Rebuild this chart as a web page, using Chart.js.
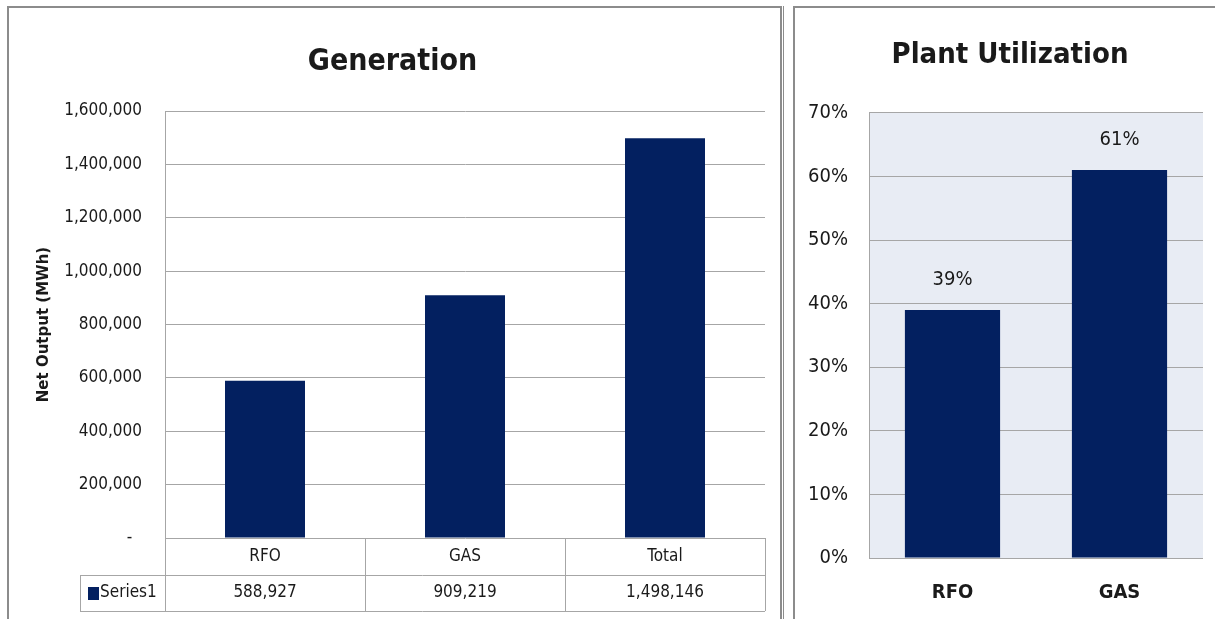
<!DOCTYPE html>
<html>
<head>
<meta charset="utf-8">
<script src="https://cdn.jsdelivr.net/npm/chart.js@4"></script>
<style>
  html, body { margin: 0; padding: 0; background: #fff; overflow: hidden; }
  body { width: 1215px; height: 619px; position: relative; }
  .panel { position: absolute; border: 2px solid #8c8c8c; box-sizing: border-box; }
  #genPanel { left: 7px; top: 6px; width: 775px; height: 660px; }
  #genPanel2 { left: 783px; top: 6px; width: 2px; height: 660px; border: 0; border-left: 1px solid #8c8c8c; }
  #utilPanel { left: 793px; top: 6px; width: 480px; height: 660px; }
  canvas { position: absolute; top: 0; }
  #genChart { left: 0; }
  #utilChart { left: 785px; }
</style>
</head>
<body>
<div class="panel" id="genPanel"></div>
<div class="panel" id="genPanel2"></div>
<div class="panel" id="utilPanel"></div>
<canvas id="genChart" width="785" height="619"></canvas>
<canvas id="utilChart" width="450" height="619"></canvas>
<script>
// data
var categories = ["RFO", "GAS", "Total"];
var netOutput = [588927, 909219, 1498146];
var seriesName = "Series1";
var genTickMax = 1600000;
var genTickStep = 200000;

var utilCategories = ["RFO", "GAS"];
var utilization = [39, 61];
var utilTickMax = 70;
var utilTickStep = 10;

// look
var FONT = '"Liberation Sans Narrow", "DejaVu Sans Condensed", "Liberation Sans", sans-serif';
var barColor = "#032060";
var gridColor = "#a6a6a6";
var textColor = "#1a1a1a";

Chart.defaults.font.family = FONT;
Chart.defaults.color = textColor;

// table under the Generation chart
var dataTable = {
    id: 'dataTable',
    afterDraw: function(chart) {
        var ctx = chart.ctx, a = chart.chartArea, x = chart.scales.x;
        var n = categories.length;
        var colW = (a.right - a.left) / n;
        var y0 = a.bottom, y1 = y0 + 37, y2 = y1 + 36;
        var keyLeft = 80;
        ctx.save();
        ctx.strokeStyle = gridColor;
        ctx.lineWidth = 1;
        ctx.beginPath();
        ctx.moveTo(keyLeft, Math.round(y1) + .5); ctx.lineTo(a.right, Math.round(y1) + .5);
        ctx.moveTo(keyLeft, Math.round(y2) + .5); ctx.lineTo(a.right, Math.round(y2) + .5);
        ctx.moveTo(keyLeft + .5, y1); ctx.lineTo(keyLeft + .5, y2);
        for (var i = 0; i <= n; i++) {
            var xx = Math.round(a.left + i * colW) + .5;
            ctx.moveTo(xx, y0); ctx.lineTo(xx, y2);
        }
        ctx.stroke();
        ctx.fillStyle = textColor;
        ctx.font = '17px ' + FONT;
        ctx.textAlign = 'center';
        ctx.textBaseline = 'middle';
        categories.forEach(function(c, i) {
            var cx = x.getPixelForValue(i);
            ctx.fillText(c, cx, (y0 + y1) / 2);
            ctx.fillText(netOutput[i].toLocaleString('en-US'), cx, (y1 + y2) / 2);
        });
        ctx.fillStyle = barColor;
        ctx.fillRect(keyLeft + 8, (y1 + y2) / 2 - 6, 11, 13);
        ctx.fillStyle = textColor;
        ctx.textAlign = 'left';
        ctx.fillText(seriesName, keyLeft + 20, (y1 + y2) / 2);
        ctx.restore();
    }
};

var plotBg = {
    id: 'plotBg',
    beforeDraw: function(chart) {
        var a = chart.chartArea;
        chart.ctx.save();
        chart.ctx.fillStyle = "#e8ecf4";
        chart.ctx.fillRect(a.left, a.top, a.right - a.left, a.bottom - a.top);
        chart.ctx.restore();
    }
};

var barLabels = {
    id: 'barLabels',
    afterDatasetsDraw: function(chart) {
        var ctx = chart.ctx;
        var meta = chart.getDatasetMeta(0);
        ctx.save();
        ctx.fillStyle = textColor;
        ctx.font = '20px ' + FONT;
        ctx.textAlign = 'center';
        ctx.textBaseline = 'middle';
        meta.data.forEach(function(bar, i) {
            ctx.fillText(utilization[i] + '%', bar.x, bar.y - 30);
        });
        ctx.restore();
    }
};

//Chart 1
var genChart = new Chart(document.getElementById("genChart"), {
    type: 'bar',
    data: {
        labels: categories,
        datasets: [{
            label: seriesName,
            data: netOutput,
            backgroundColor: barColor,
            barPercentage: 0.4,
            categoryPercentage: 1
        }]
    },
    options: {
        responsive: false,
        animation: false,
        layout: { padding: { left: 0, right: 0, top: 0, bottom: 81 } },
        plugins: {
            legend: { display: false },
            tooltip: { enabled: false },
            title: {
                display: true,
                text: 'Generation',
                color: textColor,
                font: { size: 30, weight: 'bold' },
                padding: { top: 44, bottom: 31 }
            }
        },
        scales: {
            x: { display: false },
            y: {
                min: 0,
                max: genTickMax,
                afterFit: function(s) { s.width = 165; },
                ticks: {
                    stepSize: genTickStep,
                    padding: 23,
                    font: { size: 17 },
                    color: textColor,
                    callback: function(v) { return v === 0 ? '-  ' : v.toLocaleString('en-US'); }
                },
                grid: { color: gridColor, drawTicks: false },
                border: { color: gridColor },
                title: {
                    display: true,
                    text: 'Net Output (MWh)',
                    color: textColor,
                    font: { family: '"DejaVu Sans"', size: 15, weight: 'bold' },
                    padding: { top: 35, bottom: 0 }
                }
            },
            y2: {
                position: 'right',
                display: true,
                afterFit: function(s) { s.width = 20; },
                ticks: { display: false },
                grid: { display: false, drawTicks: false },
                border: { display: false }
            }
        }
    },
    plugins: [dataTable]
});

//Chart 2
var utilChart = new Chart(document.getElementById("utilChart"), {
    type: 'bar',
    data: {
        labels: utilCategories,
        datasets: [{
            label: seriesName,
            data: utilization,
            backgroundColor: barColor,
            barPercentage: 0.57,
            categoryPercentage: 1
        }]
    },
    options: {
        responsive: false,
        animation: false,
        layout: { padding: 0 },
        plugins: {
            legend: { display: false },
            tooltip: { enabled: false },
            title: {
                display: true,
                text: 'Plant Utilization',
                color: textColor,
                font: { size: 29, weight: 'bold' },
                padding: { top: 38, bottom: 40 }
            }
        },
        scales: {
            x: {
                afterFit: function(s) { s.height = 61; },
                ticks: { padding: 23, font: { size: 20, weight: 'bold' }, color: textColor },
                grid: { display: false, drawTicks: false },
                border: { display: false }
            },
            y: {
                min: 0,
                max: utilTickMax,
                afterFit: function(s) { s.width = 84; },
                ticks: {
                    stepSize: utilTickStep,
                    padding: 21,
                    font: { size: 20 },
                    color: textColor,
                    callback: function(v) { return v + '%'; }
                },
                grid: { color: gridColor, drawTicks: false },
                border: { color: gridColor }
            },
            y2: {
                position: 'right',
                display: true,
                afterFit: function(s) { s.width = 32; },
                ticks: { display: false },
                grid: { display: false, drawTicks: false },
                border: { display: false }
            }
        }
    },
    plugins: [plotBg, barLabels]
});
</script>
</body>
</html>
